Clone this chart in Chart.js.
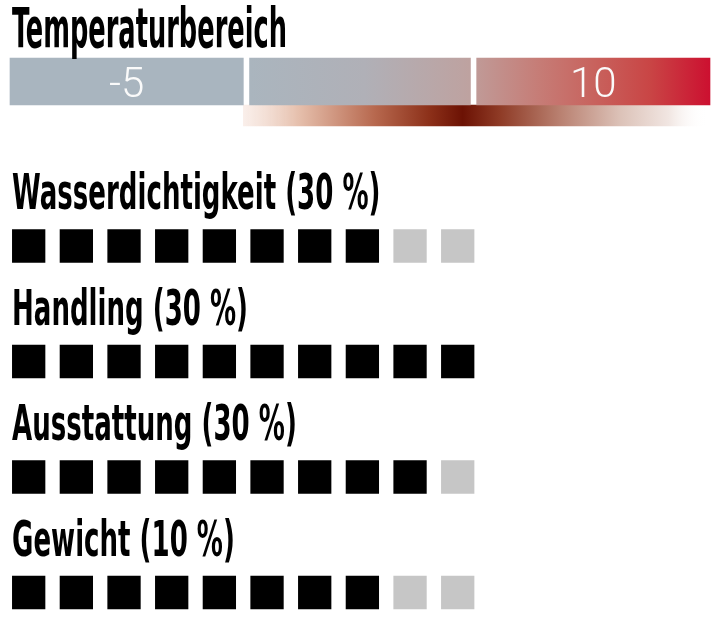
<!doctype html>
<html>
<head>
<meta charset="utf-8">
<title>Temperaturbereich</title>
<script src="https://cdn.jsdelivr.net/npm/chart.js"></script>
<style>
  body { margin: 0; background: #fff; }
  #wrap { position: relative; width: 712px; height: 629px; overflow: hidden; background: #fff; }
  canvas { position: absolute; left: 0; }
  .title {
    position: absolute; left: 12px; white-space: nowrap; color: #000;
    font-family: "Liberation Sans Narrow", "DejaVu Sans Condensed", "Liberation Sans", sans-serif;
    font-weight: bold; line-height: 1; transform-origin: 0 0;
  }
  .big { font-size: 55px; }
  .row { font-size: 50px; }
  .tlabel {
    position: absolute; white-space: nowrap; color: #fafafa;
    font-family: Roboto, Lato, "Open Sans", sans-serif; font-weight: 300;
    font-size: 42px; line-height: 1;
  }
  .base { display: inline-block; width: 0; height: 0; vertical-align: baseline; }
</style>
</head>
<body>
<div id="wrap">
  <canvas id="temp" width="712" height="140" style="top:0"></canvas>
  <canvas id="ratings" width="712" height="489" style="top:140px"></canvas>
</div>

<script>
// data
var tempTitle = 'Temperaturbereich';
var tempLabels = ['-5', '10'];
var tempLabelValues = [-5, 10];
var tempSegments = [[-8.75, -1.25], [-1.05, 6.05], [6.25, 13.75]];
var tempRange = [-1.25, 13.6];
var tempPeak = 5.8;

var rowTitles = ['Wasserdichtigkeit (30 %)', 'Handling (30 %)', 'Ausstattung (30 %)', 'Gewicht (10 %)'];
var scores = [8, 10, 9, 8];
var maxScore = 10;

// helpers
function makeText(cls, text) {
  var el = document.createElement('div');
  el.className = cls;
  el.innerHTML = '<span class="txt"></span><i class="base"></i>';
  el.querySelector('.txt').textContent = text;
  document.getElementById('wrap').appendChild(el);
  return el;
}
function textWidth(el) {
  return el.querySelector('.txt').getBoundingClientRect().width;
}
function setBaseline(el, y) {
  el.style.top = (y - el.querySelector('.base').offsetTop) + 'px';
}

// temperature bar
function scaleGradient(chart, from, to, stops) {
  var x = chart.scales.x;
  var g = chart.ctx.createLinearGradient(x.getPixelForValue(from), 0, x.getPixelForValue(to), 0);
  stops.forEach(function (s) { g.addColorStop(s[0], s[1]); });
  return g;
}

function warmGradient(ctx) {
  var chart = ctx.chart;
  if (!chart.chartArea) return '#b0a8aa';
  return scaleGradient(chart, tempSegments[1][0], tempSegments[2][1], [
    [0, '#aab5be'], [0.25, '#b0b0b7'], [0.478, '#bea2a0'], [0.492, '#c09a97'],
    [0.63, '#c67c76'], [0.75, '#c8625d'], [0.87, '#c94545'], [1, '#cc1030']
  ]);
}

function bandGradient(ctx) {
  var chart = ctx.chart;
  if (!chart.chartArea) return '#a0503a';
  var x = chart.scales.x;
  var p0 = x.getPixelForValue(tempRange[0]), p1 = x.getPixelForValue(tempRange[1]);
  var pk = (x.getPixelForValue(tempPeak) - p0) / (p1 - p0);
  return scaleGradient(chart, tempRange[0], tempRange[1], [
    [0, 'rgba(246,228,220,0.6)'], [pk * 0.25, '#e6c0ad'], [pk * 0.6, '#b7684e'],
    [pk * 0.85, '#8c3019'], [pk, '#6c1204'],
    [pk + (1 - pk) * 0.15, '#8e3a25'], [pk + (1 - pk) * 0.4, '#b98070'],
    [pk + (1 - pk) * 0.65, '#dcc2b8'], [pk + (1 - pk) * 0.85, '#f1e6e2'], [1, 'rgba(255,255,255,0)']
  ]);
}

var tempDatasets = tempSegments.map(function (seg, i) {
  return {
    data: [seg, null],
    backgroundColor: i === 0 ? '#a9b5bf' : warmGradient,
    barThickness: 47,
    grouped: false,
    borderWidth: 0,
    clip: false
  };
});
tempDatasets.push({
  data: [null, tempRange],
  backgroundColor: bandGradient,
  barThickness: 21,
  grouped: false,
  borderWidth: 0,
  clip: false
});

var tempChart = new Chart(document.getElementById('temp'), {
  type: 'bar',
  data: { labels: ['Skala', 'Bereich'], datasets: tempDatasets },
  options: {
    indexAxis: 'y',
    responsive: false,
    animation: false,
    events: [],
    layout: { autoPadding: false, padding: { left: 10, right: 2, top: 64.5, bottom: 7.5 } },
    scales: {
      x: { type: 'linear', min: -8.75, max: 13.75, display: false },
      y: { display: false }
    },
    plugins: { legend: { display: false }, tooltip: { enabled: false } }
  }
});

// ratings squares
var filled = [], empty = [];
scores.forEach(function (s, row) {
  for (var i = 0; i < maxScore; i++) {
    (i < s ? filled : empty).push({ x: i, y: row });
  }
});

function squares(data, color) {
  return {
    data: data,
    pointStyle: 'rect',
    pointRadius: 23.55,
    pointBackgroundColor: color,
    pointBorderWidth: 0,
    clip: false
  };
}

var ratingChart = new Chart(document.getElementById('ratings'), {
  type: 'scatter',
  data: { datasets: [squares(filled, '#000000'), squares(empty, '#c6c6c6')] },
  options: {
    responsive: false,
    animation: false,
    events: [],
    // no auto padding: the square size would otherwise be added around the plot
    layout: { autoPadding: false, padding: { left: 4.85, right: 230.45, top: 48.25, bottom: 1.85 } },
    scales: {
      x: { type: 'linear', min: -0.5, max: 9.5, display: false },
      y: { type: 'linear', min: -0.5, max: 3.3, reverse: true, display: false }
    },
    plugins: { legend: { display: false }, tooltip: { enabled: false } }
  }
});

// text
function layoutText() {
  var head = makeText('title big', tempTitle);
  head.style.transform = 'scaleX(' + (275 / textWidth(head)) + ')';
  setBaseline(head, 47);

  var rows = rowTitles.map(function (t) { return makeText('title row', t); });
  var squeeze = 236 / textWidth(rows[1]);
  var y = ratingChart.scales.y;
  rows.forEach(function (el, i) {
    el.style.transform = 'scaleX(' + squeeze + ')';
    setBaseline(el, 140 + y.getPixelForValue(i) - 37);
  });

  var x = tempChart.scales.x;
  tempLabels.forEach(function (t, i) {
    var el = makeText('tlabel', t);
    el.style.left = (x.getPixelForValue(tempLabelValues[i]) - textWidth(el) / 2) + 'px';
    setBaseline(el, 96.5);
  });
}

if (document.fonts && document.fonts.ready) {
  document.fonts.ready.then(layoutText);
} else {
  layoutText();
}
</script>
</body>
</html>
